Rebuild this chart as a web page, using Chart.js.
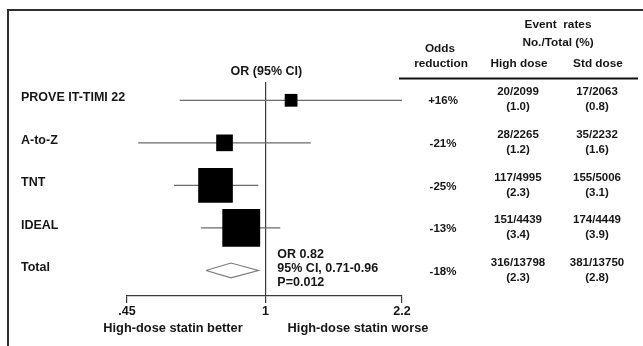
<!DOCTYPE html>
<html>
<head>
<meta charset="utf-8">
<script src="https://cdn.jsdelivr.net/npm/chart.js@4.4.0/dist/chart.umd.min.js"></script>
<style>
  html, body { margin: 0; padding: 0; background: #fff; overflow: hidden; }
  #wrap { position: relative; width: 643px; height: 346px; }
  #frame { position: absolute; left: 7px; top: 9px; right: -6px; bottom: -6px;
           border-top: 2px solid #2e2e2e; border-left: 2px solid #2e2e2e; }
</style>
</head>
<body>
<div id="wrap">
  <canvas id="forestChart" width="643" height="346"></canvas>
  <div id="frame"></div>
</div>
<script>
// study rows, top to bottom (last one is the pooled total)
const studies = ['PROVE IT-TIMI 22', 'A-to-Z', 'TNT', 'IDEAL', 'Total'];
const oddsRatio = [1.16, 0.79, 0.75, 0.87, 0.82];
const ciLow = [0.61, 0.48, 0.59, 0.69, 0.71];
const ciHigh = [2.2, 1.30, 0.96, 1.09, 0.96];
const oddsReduction = ['+16%', '-21%', '-25%', '-13%', '-18%'];
const highEvents = [20, 28, 117, 151, 316];
const highTotal = [2099, 2265, 4995, 4439, 13798];
const highPct = ['1.0', '1.2', '2.3', '3.4', '2.3'];
const stdEvents = [17, 35, 155, 174, 381];
const stdTotal = [2063, 2232, 5006, 4449, 13750];
const stdPct = ['0.8', '1.6', '3.1', '3.9', '2.8'];
const xTicks = [0.45, 1, 2.2];
const pValue = '0.012';

const FONT = '"Liberation Sans", Arial, Helvetica, sans-serif';
const INK = '#161616';
const nStudies = studies.length - 1;

// square area ~ number of events
const squareRadius = studies.slice(0, nStudies).map((s, i) =>
    2.1 * Math.sqrt(highEvents[i] + stdEvents[i]) / Math.SQRT2);

const ciSets = studies.slice(0, nStudies).map((s, i) => ({
    type: 'scatter',
    data: [{ x: ciLow[i], y: i }, { x: ciHigh[i], y: i }],
    showLine: true,
    borderColor: '#6a6a6a',
    borderWidth: 1.2,
    pointRadius: 0,
    order: 2
}));

const t = nStudies;
const dh = 0.175; // half height of the diamond in row units
const diamond = {
    type: 'scatter',
    data: [
        { x: ciLow[t], y: t }, { x: oddsRatio[t], y: t - dh },
        { x: ciHigh[t], y: t }, { x: oddsRatio[t], y: t + dh },
        { x: ciLow[t], y: t }
    ],
    showLine: true,
    borderColor: '#7a7a7a',
    borderWidth: 1.2,
    pointRadius: 0,
    order: 1
};

const squares = {
    type: 'scatter',
    data: studies.slice(0, nStudies).map((s, i) => ({ x: oddsRatio[i], y: i })),
    pointStyle: 'rect',
    pointRadius: squareRadius,
    pointBackgroundColor: '#000',
    pointBorderWidth: 0,
    order: 0
};

const tableText = {
    id: 'tableText',
    afterDraw(chart) {
        const { ctx } = chart;
        const xs = chart.scales.x, ys = chart.scales.y;
        const f = s => 'bold ' + s + 'px ' + FONT;
        ctx.save();
        ctx.fillStyle = INK;
        ctx.textBaseline = 'middle';

        // study names
        ctx.font = f(12.5);
        ctx.textAlign = 'left';
        studies.forEach((s, i) => ctx.fillText(s, 21, ys.getPixelForValue(i) - 2.5));

        // column title over the plot
        ctx.textAlign = 'center';
        ctx.fillText('OR (95% CI)', xs.getPixelForValue(1) + 1, 72);

        // pooled summary
        ctx.textAlign = 'left';
        const sx = xs.getPixelForValue(1) + 12;
        ctx.fillText('OR ' + oddsRatio[t].toFixed(2), sx, 254.5);
        ctx.fillText('95% CI, ' + ciLow[t].toFixed(2) + '-' + ciHigh[t].toFixed(2), sx, 268.5);
        ctx.fillText('P=' + pValue, sx, 283);

        // direction labels
        ctx.textAlign = 'center';
        ctx.font = f(12.8);
        ctx.fillText('High-dose statin better', 173, 328);
        ctx.fillText('High-dose statin worse', 358, 328);

        // table header
        ctx.font = f(11.8);
        ctx.fillText('Event  rates', 558, 25);
        ctx.fillText('No./Total (%)', 558, 43);
        ctx.fillText('Odds', 440, 49);
        ctx.fillText('reduction', 441, 63.5);
        ctx.fillText('High dose', 519, 63.5);
        ctx.fillText('Std dose', 598, 63.5);
        ctx.strokeStyle = '#111';
        ctx.lineWidth = 2;
        ctx.beginPath();
        ctx.moveTo(399, 78.5);
        ctx.lineTo(638, 78.5);
        ctx.stroke();

        // table rows
        ctx.font = f(11.5);
        studies.forEach((s, i) => {
            const yc = ys.getPixelForValue(i);
            ctx.fillText(oddsReduction[i], 443, yc + 1);
            ctx.fillText(highEvents[i] + '/' + highTotal[i], 518, yc - 8);
            ctx.fillText('(' + highPct[i] + ')', 518, yc + 7);
            ctx.fillText(stdEvents[i] + '/' + stdTotal[i], 597, yc - 8);
            ctx.fillText('(' + stdPct[i] + ')', 597, yc + 7);
        });
        ctx.restore();
    }
};

const ctx = document.getElementById('forestChart').getContext('2d');
const forestChart = new Chart(ctx, {
    type: 'scatter',
    data: { datasets: [squares, diamond, ...ciSets] },
    options: {
        responsive: false,
        animation: false,
        layout: { padding: { left: 127, right: 241, top: 82, bottom: 26 } },
        plugins: { legend: { display: false }, tooltip: { enabled: false } },
        scales: {
            x: {
                type: 'logarithmic',
                min: xTicks[0],
                max: xTicks[xTicks.length - 1],
                afterBuildTicks: axis => { axis.ticks = xTicks.map(v => ({ value: v })); },
                ticks: {
                    padding: 1,
                    color: INK,
                    font: { family: FONT, size: 12.5, weight: 'bold' },
                    callback: v => v < 1 ? String(v).replace(/^0/, '') : String(v),
                    maxRotation: 0,
                    autoSkip: false
                },
                grid: {
                    color: c => (c.tick && c.tick.value === 1) ? '#3a3a3a' : 'rgba(0,0,0,0)',
                    tickColor: '#3a3a3a',
                    tickLength: 7,
                    lineWidth: 1.2
                },
                border: { display: true, color: '#3a3a3a', width: 1.2 }
            },
            y: {
                type: 'linear',
                reverse: true,
                min: -0.43,
                max: 4.6,
                display: false
            }
        }
    },
    plugins: [tableText]
});
</script>
</body>
</html>
